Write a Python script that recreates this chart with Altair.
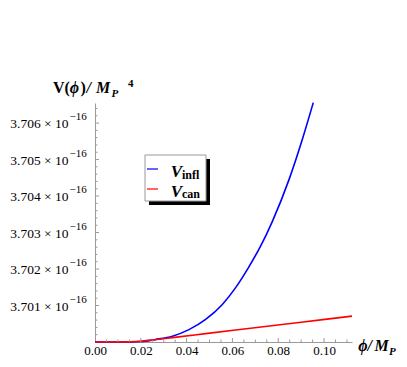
import altair as alt
import pandas as pd

# ---- data (values in units of 1e-16) ----
phi_infl = [0.000, 0.010, 0.015, 0.020, 0.0265, 0.0338, 0.041, 0.0483, 0.0556, 0.0614, 0.067, 0.072, 0.0774, 0.0847, 0.0905, 0.0953]
v_infl = [3.70000, 3.70000, 3.700002, 3.700012, 3.70007, 3.70016, 3.70034, 3.70062, 3.70103, 3.70149, 3.70204, 3.70259, 3.70330, 3.70445, 3.70555, 3.70656]
phi_can = [0.000, 0.010, 0.015, 0.020, 0.025, 0.0338, 0.0483, 0.067, 0.090, 0.1122]
v_can = [3.70000, 3.70000, 3.700004, 3.70002, 3.700055, 3.70012, 3.700229, 3.70037, 3.700543, 3.70071]

x_major = [0.00, 0.02, 0.04, 0.06, 0.08, 0.10]
x_minor = [0.005, 0.01, 0.015, 0.025, 0.03, 0.035, 0.045, 0.05, 0.055, 0.065, 0.07, 0.075,
           0.085, 0.09, 0.095, 0.105, 0.11]
y_major = [3.701, 3.702, 3.703, 3.704, 3.705, 3.706]
y_minor = [3.7002, 3.7004, 3.7006, 3.7008, 3.7012, 3.7014, 3.7016, 3.7018, 3.7022, 3.7024,
           3.7026, 3.7028, 3.7032, 3.7034, 3.7036, 3.7038, 3.7042, 3.7044, 3.7046, 3.7048,
           3.7052, 3.7054, 3.7056, 3.7058, 3.7062, 3.7064]
series_names = ["V_infl", "V_can"]
series_colors = ["#0000ff", "#ff0000"]

W, H = 257, 239
SERIF = "Liberation Serif"
AXIS_GRAY = "#9a9a9a"

xs = alt.Scale(domain=[0, 0.1122], nice=False, zero=False)
ys = alt.Scale(domain=[3.7000, 3.70655], nice=False, zero=False)

curves = pd.DataFrame({
    "phi": phi_infl + phi_can,
    "v": v_infl + v_can,
    "series": [series_names[0]] * len(phi_infl) + [series_names[1]] * len(phi_can),
    "order": list(range(len(phi_infl))) + list(range(len(phi_can))),
})

one = pd.DataFrame({"a": [0]})

lines = alt.Chart(curves).mark_line(strokeWidth=1.6, interpolate="monotone").encode(
    x=alt.X("phi:Q", scale=xs, axis=alt.Axis(
        values=x_major, format=".2f", labelFont=SERIF, labelFontSize=13, labelColor="black",
        domainColor=AXIS_GRAY, tickSize=0, labelPadding=2, grid=False, title=None,
        labelFlush=False, labelOverlap=False)),
    y=alt.Y("v:Q", scale=ys, axis=alt.Axis(
        labels=False, ticks=False, domainColor=AXIS_GRAY, grid=False, title=None)),
    color=alt.Color("series:N", scale=alt.Scale(domain=series_names, range=series_colors), legend=None),
    order="order:Q",
)

def xticks(vals, length):
    return alt.Chart(pd.DataFrame({"t": vals})).mark_rule(color=AXIS_GRAY, strokeWidth=1).encode(
        x=alt.X("t:Q", scale=xs), y=alt.value(H), y2=alt.value(H - length))

def yticks(vals, length):
    return alt.Chart(pd.DataFrame({"t": vals})).mark_rule(color=AXIS_GRAY, strokeWidth=1).encode(
        y=alt.Y("t:Q", scale=ys), x=alt.value(0), x2=alt.value(length))

ylab = pd.DataFrame({"t": y_major, "lab": [f"{v:.3f} × 10" for v in y_major]})
ylabels_main = alt.Chart(ylab).mark_text(font=SERIF, fontSize=13.5, align="right",
                                         baseline="alphabetic", dy=5, color="black").encode(
    y=alt.Y("t:Q", scale=ys), x=alt.value(-26.5), text="lab:N")
ylabels_exp = alt.Chart(ylab).mark_text(font=SERIF, fontSize=11, align="left",
                                        baseline="alphabetic", dy=-3, color="black", text="−16").encode(
    y=alt.Y("t:Q", scale=ys), x=alt.value(-25.5))

def txt(s, x, y, size=16, weight="bold", style="normal"):
    return alt.Chart(one).mark_text(text=s, font=SERIF, fontSize=size, fontWeight=weight,
                                    fontStyle=style, align="left", baseline="alphabetic",
                                    color="black").encode(x=alt.value(x), y=alt.value(y))

def rect(x, y, x2, y2, fill, stroke=None):
    kw = dict(fill=fill)
    if stroke:
        kw.update(stroke=stroke, strokeWidth=1)
    return alt.Chart(one).mark_rect(**kw).encode(
        x=alt.value(x), y=alt.value(y), x2=alt.value(x2), y2=alt.value(y2))

def seg(x, x2, y, color):
    return alt.Chart(one).mark_rule(color=color, strokeWidth=1.2).encode(
        x=alt.value(x), x2=alt.value(x2), y=alt.value(y))

annotations = [
    # y title  V(phi)/M_P^4
    txt("V(", -42, -10),
    txt("ϕ", -25.3, -10, style="italic"),
    txt(")", -14.5, -10),
    txt("/", -8.5, -10, style="italic"),
    txt("M", 1, -10, style="italic"),
    txt("P", 16.5, -6, size=11, style="italic"),
    txt("4", 33, -16, size=11),
    # x title  phi/M_P
    txt("ϕ", 263.3, 248, style="italic"),
    txt("/", 272.5, 248, style="italic"),
    txt("M", 279.5, 248, style="italic"),
    txt("P", 294, 252, size=11, style="italic"),
    # legend
    rect(54, 56, 115, 102, "black"),
    rect(50, 52, 111, 98, "white", AXIS_GRAY),
    seg(52, 63, 66, series_colors[0]),
    seg(52, 63, 86, series_colors[1]),
    txt("V", 75.7, 73.7, size=17, style="italic"),
    txt("infl", 87, 75.5, size=12),
    txt("V", 75.7, 93.7, size=17, style="italic"),
    txt("can", 87, 95, size=12),
]

chart = alt.layer(
    lines,
    xticks(x_major[1:], 4), xticks(x_minor, 2.5),
    yticks(y_major, 4), yticks(y_minor, 2.5),
    ylabels_main, ylabels_exp,
    *annotations,
).properties(
    width=W, height=H,
    padding={"left": 87, "top": 95, "right": 47, "bottom": 17},
    autosize=alt.AutoSizeParams(type="none"),
).configure_view(stroke=None)

chart.save("out.html", embed_options={"renderer": "svg", "actions": False})
